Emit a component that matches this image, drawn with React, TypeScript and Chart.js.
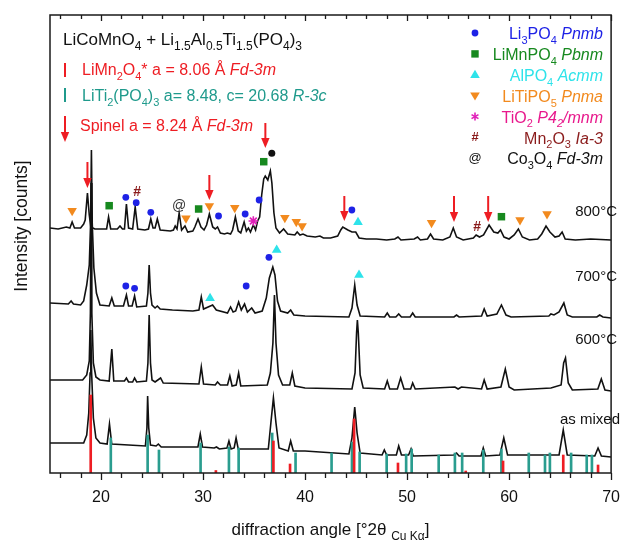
import React, { useEffect, useRef } from 'react';
import { Chart, registerables } from 'chart.js';

Chart.register(...registerables);

const FONT = '"Liberation Sans", Arial, Helvetica, sans-serif';
const RED = '#ee1d23';
const TEAL = '#1f9a8c';
const BLUE = '#1e22e6';
const GREEN = '#17891f';
const CYAN = '#2ee3ea';
const ORANGE = '#f28a1e';
const MAGENTA = '#e01eb8';
const PINK = '#e8188c';
const DARKRED = '#8b1c1c';

// ---- X axis ----
const xTickValues = [20, 30, 40, 50, 60, 70];
const minorTickValues = [16, 18, 20, 22, 24, 26, 28, 30, 32, 34, 36, 38, 40, 42, 44, 46, 48, 50, 52, 54, 56, 58, 60, 62, 64, 66, 68, 70];

// ---- Diffraction patterns [2theta, intensity (offset, a.u.)] ----
const trace800: [number, number][] = [
  [15.0, 245], [15.8, 244], [16.6, 246], [16.95, 245], [17.17, 251], [17.4, 245], [18.0, 245], [18.3, 249], [18.45, 253],
  [18.67, 280], [18.85, 258], [19.0, 246], [19.4, 244], [20.2, 244], [20.55, 244], [20.74, 256], [20.95, 244], [21.6, 244],
  [21.86, 247], [22.1, 244], [22.3, 244], [22.49, 269], [22.7, 245], [23.1, 244], [23.35, 266], [23.6, 244], [24.3, 243],
  [24.65, 244], [24.88, 254], [25.1, 245], [25.3, 245], [25.52, 254], [25.8, 243], [26.8, 242], [27.1, 243], [27.27, 247],
  [27.45, 244], [27.66, 260], [27.9, 243], [28.23, 247], [28.5, 241], [29.0, 242], [29.2, 246], [29.51, 254], [29.8, 246],
  [30.1, 243], [30.35, 248], [30.62, 259], [30.95, 246], [31.2, 244], [31.42, 246], [31.7, 240], [32.1, 239], [32.38, 240],
  [32.7, 239], [32.9, 243], [33.17, 256], [33.45, 242], [33.7, 240], [34.03, 251], [34.25, 242], [34.45, 245], [34.65, 241],
  [34.93, 248], [35.15, 243], [35.35, 252], [35.55, 256], [35.75, 278], [35.95, 294], [36.1, 297], [36.35, 293], [36.6, 302],
  [36.75, 290], [36.95, 260], [37.15, 245], [37.5, 240], [37.9, 244], [38.3, 239], [39.0, 238], [39.23, 241], [39.5, 238],
  [39.8, 239], [40.2, 237], [41.0, 236], [41.46, 237], [41.8, 235], [42.5, 235], [43.2, 237], [43.5, 243], [43.7, 246],
  [44.2, 243], [44.6, 241], [44.97, 241], [45.3, 235], [46.0, 234], [47.0, 234], [48.0, 233], [48.8, 234], [49.11, 236],
  [49.4, 233], [50.7, 234], [51.03, 236], [51.3, 233], [52.0, 234], [52.3, 239], [52.6, 234], [53.5, 233], [54.2, 236],
  [54.53, 245], [54.85, 236], [55.5, 233], [56.5, 235], [56.77, 238], [57.1, 236], [57.5, 238], [58.04, 248], [58.5, 241],
  [58.9, 240], [59.16, 243], [59.5, 236], [60.0, 234], [60.5, 238], [60.91, 244], [61.3, 236], [62.0, 233], [62.8, 234],
  [63.2, 239], [63.62, 247], [64.0, 241], [64.5, 236], [64.9, 237], [65.2, 241], [65.5, 234], [66.5, 233], [68.0, 234], [70.0, 233],
];

const trace700: [number, number][] = [
  [15.0, 170], [16.8, 169], [17.07, 172], [17.3, 169], [18.0, 168], [18.3, 172], [18.6, 188], [18.85, 208], [18.98, 250],
  [19.06, 323], [19.14, 250], [19.3, 205], [19.55, 180], [19.9, 168], [20.8, 167], [21.06, 175], [21.3, 167], [22.2, 167],
  [22.49, 178], [22.7, 167], [23.05, 167], [23.29, 177], [23.5, 166], [24.45, 167], [24.6, 180], [24.72, 208], [24.85, 180],
  [25.0, 168], [25.3, 165], [25.52, 167], [25.8, 164], [27.0, 163], [29.0, 162], [29.6, 163], [29.83, 176], [30.05, 164],
  [30.94, 168], [31.3, 163], [32.4, 160], [32.7, 166], [32.95, 161], [33.2, 162], [33.49, 171], [33.75, 163], [34.07, 169],
  [34.35, 161], [34.77, 165], [35.1, 160], [35.8, 162], [36.2, 175], [36.5, 195], [36.84, 206], [37.05, 198], [37.3, 172],
  [37.6, 162], [38.3, 160], [38.59, 163], [38.9, 158], [40.0, 157], [44.3, 156], [44.6, 165], [44.87, 188], [45.1, 168],
  [45.4, 157], [47.8, 156], [48.06, 160], [48.3, 156], [48.9, 156], [49.18, 159], [49.45, 156], [50.3, 156], [50.55, 160],
  [50.8, 156], [54.6, 156], [54.85, 158], [55.1, 156], [57.3, 157], [57.56, 164], [57.85, 157], [58.8, 159], [59.25, 168],
  [59.7, 158], [60.2, 156], [63.9, 157], [64.1, 159], [64.4, 158], [64.9, 161], [65.37, 170], [65.7, 158], [66.2, 156],
  [68.6, 156], [68.88, 158], [69.2, 156], [70.0, 155],
];

const trace600: [number, number][] = [
  [15.0, 93], [17.0, 93], [18.2, 93], [18.6, 98], [18.85, 112], [18.96, 160], [19.03, 290], [19.1, 160], [19.25, 110],
  [19.5, 96], [19.9, 93], [20.8, 92], [21.06, 124], [21.25, 92], [22.3, 92], [22.49, 95], [22.7, 91], [23.1, 91], [23.29, 95],
  [23.5, 91], [24.45, 92], [24.6, 110], [24.72, 158], [24.85, 110], [25.0, 93], [25.3, 91], [25.84, 95], [26.1, 90], [29.6, 89],
  [29.83, 106], [30.05, 89], [31.2, 88], [31.42, 91], [31.7, 88], [32.4, 88], [32.63, 97], [32.85, 87], [33.25, 88], [33.49, 100],
  [33.7, 87], [36.3, 88], [36.6, 100], [36.85, 130], [37.0, 178], [37.15, 130], [37.4, 98], [37.8, 88], [38.5, 88], [38.75, 100],
  [39.0, 87], [40.0, 85], [44.6, 84], [44.9, 100], [45.05, 140], [45.13, 153], [45.22, 140], [45.4, 98], [45.7, 85], [47.8, 84],
  [48.06, 92], [48.3, 84], [49.05, 84], [49.37, 95], [49.7, 84], [50.35, 84], [50.55, 90], [50.8, 84], [54.69, 86], [55.0, 84],
  [55.33, 86], [57.3, 84], [57.56, 93], [57.85, 84], [59.2, 86], [59.63, 104], [60.0, 86], [60.5, 83], [64.1, 85], [65.1, 88],
  [65.35, 110], [65.53, 115], [65.8, 90], [66.2, 83], [68.7, 84], [69.04, 94], [69.4, 83], [70.0, 82],
];

const traceMixed: [number, number][] = [
  [15.0, 30], [17.0, 30], [18.3, 30], [18.6, 38], [18.8, 60], [18.93, 100], [19.0, 143], [19.08, 100], [19.25, 55], [19.5, 35],
  [19.9, 30], [20.6, 29], [20.83, 49], [21.05, 29], [24.35, 27], [24.5, 45], [24.57, 77], [24.68, 45], [24.85, 28], [25.4, 27],
  [25.62, 29], [25.9, 26], [29.5, 26], [29.73, 39], [29.95, 26], [31.1, 25], [31.32, 26], [31.6, 24], [32.35, 25], [32.54, 32],
  [32.75, 24], [33.05, 25], [33.24, 35], [33.45, 24], [36.4, 24], [36.65, 50], [36.9, 75], [37.15, 50], [37.45, 25], [38.35, 22],
  [38.59, 32], [38.85, 22], [40.0, 22], [44.3, 19], [44.6, 35], [44.87, 66], [45.1, 40], [45.4, 20], [47.55, 18], [47.77, 23],
  [48.0, 18], [48.95, 18], [49.18, 27], [49.45, 18], [50.15, 18], [50.39, 24], [50.6, 17], [54.6, 18], [54.85, 20], [55.1, 17],
  [57.25, 17], [57.47, 25], [57.7, 17], [59.1, 18], [59.48, 35], [59.85, 18], [64.9, 18], [65.31, 43], [65.7, 18], [68.4, 17],
  [68.72, 25], [69.05, 17], [70.0, 16],
];

// ---- Reference patterns (stick heights) ----
const limn2o4Sticks: [number, number][] = [
  [18.99, 78], [31.26, 2.5], [36.9, 32], [38.53, 9], [44.81, 54], [49.11, 10], [55.75, 2], [59.41, 12], [65.31, 18], [68.72, 8],
];
const liti2po43Sticks: [number, number][] = [
  [20.96, 35], [24.57, 38], [25.68, 23], [29.76, 30], [32.54, 26], [33.49, 25], [36.78, 40], [39.07, 20], [42.6, 20], [44.6, 31],
  [45.35, 21], [48.0, 19], [49.91, 19], [50.45, 24], [53.1, 18], [54.69, 20], [55.4, 20], [57.47, 23], [59.25, 24], [61.93, 20],
  [63.52, 18], [64.0, 20], [66.08, 20], [67.61, 18], [68.12, 18],
];

// ---- Phase markers [2theta, intensity] ----
const li3po4Marks: [number, number][] = [
  [22.43, 275.7], [23.45, 270.3], [24.88, 260.7], [31.52, 257], [34.13, 259], [35.5, 273], [44.59, 263],
  [22.43, 187], [23.29, 184.7], [34.23, 187], [36.46, 215.7],
];
const limnpo4Marks: [number, number][] = [[20.8, 267.3], [29.57, 264], [35.95, 311.3], [59.25, 256.3]];
const alpo4Marks: [number, number][] = [[45.19, 250.7], [30.69, 174.7], [37.22, 223], [45.29, 198]];
const litipo5Marks: [number, number][] = [
  [17.17, 262.3], [28.33, 254.7], [30.62, 267], [33.11, 265.3], [38.02, 255.3], [39.14, 251.3], [39.71, 247],
  [52.4, 250.3], [61.07, 253], [63.72, 259],
];
const tio2Marks: [number, number][] = [[34.93, 252]];
const mn2o3Marks: [number, number][] = [[23.54, 280.7], [56.86, 246.3]];
const co3o4Marks: [number, number][] = [[27.66, 267.3]];
const unassignedMarks: [number, number][] = [[36.74, 319.7]];
// spinel arrows: [2theta, tail intensity, tip intensity]
const spinelArrows: [number, number, number][] = [
  [18.67, 311, 285], [30.62, 298, 273], [36.11, 350, 325], [43.85, 277, 252], [54.6, 277, 251], [57.95, 277, 251],
];

const sampleNames = ['800°C', '700°C', '600°C', 'as mixed'];

type Seg = { t: string; sub?: boolean; it?: boolean };

const titleLine: Seg[] = [
  { t: 'LiCoMnO' }, { t: '4', sub: true }, { t: ' + Li' }, { t: '1.5', sub: true }, { t: 'Al' }, { t: '0.5', sub: true },
  { t: 'Ti' }, { t: '1.5', sub: true }, { t: '(PO' }, { t: '4', sub: true }, { t: ')' }, { t: '3', sub: true },
];
const limn2o4Line: Seg[] = [
  { t: 'LiMn' }, { t: '2', sub: true }, { t: 'O' }, { t: '4', sub: true }, { t: '* a = 8.06 Å ' }, { t: 'Fd-3m', it: true },
];
const liti2Line: Seg[] = [
  { t: 'LiTi' }, { t: '2', sub: true }, { t: '(PO' }, { t: '4', sub: true }, { t: ')' }, { t: '3', sub: true },
  { t: ' a= 8.48, c= 20.68 ' }, { t: 'R-3c', it: true },
];
const spinelLine: Seg[] = [{ t: 'Spinel a = 8.24 Å ' }, { t: 'Fd-3m', it: true }];

const phaseLegend: { segs: Seg[]; color: string; marker: string }[] = [
  { segs: [{ t: 'Li' }, { t: '3', sub: true }, { t: 'PO' }, { t: '4', sub: true }, { t: ' ' }, { t: 'Pnmb', it: true }], color: BLUE, marker: 'circle' },
  { segs: [{ t: 'LiMnPO' }, { t: '4', sub: true }, { t: ' ' }, { t: 'Pbnm', it: true }], color: GREEN, marker: 'square' },
  { segs: [{ t: 'AlPO' }, { t: '4', sub: true }, { t: ' ' }, { t: 'Acmm', it: true }], color: CYAN, marker: 'tri' },
  { segs: [{ t: 'LiTiPO' }, { t: '5', sub: true }, { t: ' ' }, { t: 'Pnma', it: true }], color: ORANGE, marker: 'itri' },
  { segs: [{ t: 'TiO' }, { t: '2', sub: true }, { t: ' ' }, { t: 'P4', it: true }, { t: '2', sub: true, it: true }, { t: '/mnm', it: true }], color: PINK, marker: 'star' },
  { segs: [{ t: 'Mn' }, { t: '2', sub: true }, { t: 'O' }, { t: '3', sub: true }, { t: ' ' }, { t: 'Ia-3', it: true }], color: DARKRED, marker: 'hash' },
  { segs: [{ t: 'Co' }, { t: '3', sub: true }, { t: 'O' }, { t: '4', sub: true }, { t: ' ' }, { t: 'Fd-3m', it: true }], color: '#111111', marker: 'at' },
];

function drawRich(ctx: CanvasRenderingContext2D, segs: Seg[], x: number, y: number, size: number, color: string, align = 'left') {
  const subSize = Math.round(size * 0.7);
  const font = (s: Seg) => `${s.it ? 'italic ' : ''}${s.sub ? subSize : size}px ${FONT}`;
  let w = 0;
  for (const s of segs) {
    ctx.font = font(s);
    w += ctx.measureText(s.t).width;
  }
  let cx = align === 'right' ? x - w : align === 'center' ? x - w / 2 : x;
  ctx.fillStyle = color;
  ctx.textAlign = 'left';
  ctx.textBaseline = 'alphabetic';
  for (const s of segs) {
    ctx.font = font(s);
    ctx.fillText(s.t, cx, s.sub ? y + size * 0.3 : y);
    cx += ctx.measureText(s.t).width;
  }
}

function drawArrow(ctx: CanvasRenderingContext2D, x: number, y0: number, y1: number, color: string) {
  ctx.save();
  ctx.strokeStyle = color;
  ctx.fillStyle = color;
  ctx.lineWidth = 2;
  ctx.beginPath();
  ctx.moveTo(x, y0);
  ctx.lineTo(x, y1 - 8);
  ctx.stroke();
  ctx.beginPath();
  ctx.moveTo(x - 4.2, y1 - 10);
  ctx.lineTo(x + 4.2, y1 - 10);
  ctx.lineTo(x, y1);
  ctx.closePath();
  ctx.fill();
  ctx.restore();
}

function drawLegendMarker(ctx: CanvasRenderingContext2D, kind: string, x: number, y: number, color: string) {
  ctx.save();
  ctx.fillStyle = color;
  ctx.strokeStyle = color;
  if (kind === 'circle') {
    ctx.beginPath(); ctx.arc(x, y, 3.4, 0, Math.PI * 2); ctx.fill();
  } else if (kind === 'square') {
    ctx.fillRect(x - 3.7, y - 3.7, 7.4, 7.4);
  } else if (kind === 'tri') {
    ctx.beginPath(); ctx.moveTo(x, y - 5); ctx.lineTo(x + 4.8, y + 3.2); ctx.lineTo(x - 4.8, y + 3.2); ctx.closePath(); ctx.fill();
  } else if (kind === 'itri') {
    ctx.beginPath(); ctx.moveTo(x, y + 4.8); ctx.lineTo(x + 4.8, y - 3.2); ctx.lineTo(x - 4.8, y - 3.2); ctx.closePath(); ctx.fill();
  } else if (kind === 'star') {
    ctx.strokeStyle = MAGENTA;
    ctx.lineWidth = 1.6;
    for (let i = 0; i < 3; i++) {
      const a = (i * Math.PI) / 3 + Math.PI / 2;
      ctx.beginPath(); ctx.moveTo(x - 4 * Math.cos(a), y - 4 * Math.sin(a)); ctx.lineTo(x + 4 * Math.cos(a), y + 4 * Math.sin(a)); ctx.stroke();
    }
  } else if (kind === 'hash') {
    ctx.font = `bold 13px ${FONT}`; ctx.textAlign = 'center'; ctx.textBaseline = 'middle'; ctx.fillText('#', x, y);
  } else if (kind === 'at') {
    ctx.font = `13px ${FONT}`; ctx.textAlign = 'center'; ctx.textBaseline = 'middle'; ctx.fillText('@', x, y);
  }
  ctx.restore();
}

const decoPlugin = {
  id: 'deco',
  afterDatasetsDraw(chart: any) {
    const { ctx, scales } = chart;
    const x = scales.x;
    const y = scales.y;
    for (const [d, tail, tip] of spinelArrows) {
      drawArrow(ctx, x.getPixelForValue(d), y.getPixelForValue(tail), y.getPixelForValue(tip), RED);
    }
    ctx.save();
    ctx.textAlign = 'center';
    ctx.textBaseline = 'middle';
    ctx.fillStyle = DARKRED;
    ctx.font = `bold 14px ${FONT}`;
    for (const [d, v] of mn2o3Marks) ctx.fillText('#', x.getPixelForValue(d), y.getPixelForValue(v));
    ctx.fillStyle = '#333';
    ctx.font = `14px ${FONT}`;
    for (const [d, v] of co3o4Marks) ctx.fillText('@', x.getPixelForValue(d), y.getPixelForValue(v));
    ctx.restore();
  },
  afterDraw(chart: any) {
    const { ctx, chartArea: a, scales } = chart;
    const x = scales.x;
    ctx.save();
    // frame
    ctx.strokeStyle = '#1a1a1a';
    ctx.lineWidth = 1.5;
    ctx.strokeRect(a.left, a.top, a.right - a.left, a.bottom - a.top);
    // ticks
    ctx.lineWidth = 1.3;
    for (const v of minorTickValues) {
      const px = Math.round(x.getPixelForValue(v)) + 0.5;
      const len = xTickValues.includes(v) ? 7 : 5;
      ctx.beginPath();
      ctx.moveTo(px, a.bottom);
      ctx.lineTo(px, a.bottom + len);
      ctx.moveTo(px, a.top);
      ctx.lineTo(px, a.top + len - 1);
      ctx.stroke();
    }
    // axis titles
    drawRich(ctx, [{ t: 'diffraction angle [°2θ ' }, { t: 'Cu Kα', sub: true }, { t: ']' }], (a.left + a.right) / 2, 535, 17, '#111', 'center');
    ctx.save();
    ctx.translate(22, 226);
    ctx.rotate(-Math.PI / 2);
    ctx.font = `17.5px ${FONT}`;
    ctx.fillStyle = '#111';
    ctx.textAlign = 'center';
    ctx.textBaseline = 'middle';
    ctx.fillText('Intensity [counts]', 0, 0);
    ctx.restore();

    // left legend
    drawRich(ctx, titleLine, 63, 45, 17, '#111');
    ctx.fillStyle = RED;
    ctx.fillRect(64, 63, 2, 14);
    drawRich(ctx, limn2o4Line, 82, 75, 16, RED);
    ctx.fillStyle = TEAL;
    ctx.fillRect(64, 88, 2, 14);
    drawRich(ctx, liti2Line, 82, 101, 16, TEAL);
    drawArrow(ctx, 65, 116, 142, RED);
    drawRich(ctx, spinelLine, 80, 131, 16, RED);

    // right legend
    phaseLegend.forEach((p, i) => {
      const cy = 33 + i * 20.9;
      drawLegendMarker(ctx, p.marker, 475, cy, p.color === PINK ? MAGENTA : p.color);
      drawRich(ctx, p.segs, 603, cy + 6, 16, p.color, 'right');
    });

    // sample labels
    ctx.font = `15px ${FONT}`;
    ctx.fillStyle = '#111';
    ctx.textAlign = 'right';
    ctx.textBaseline = 'middle';
    const labelY = [212, 277, 340, 420];
    const labelX = [617, 617, 617, 620];
    sampleNames.forEach((n, i) => ctx.fillText(n, labelX[i], labelY[i]));
    ctx.restore();
  },
};

export default function App() {
  const ref = useRef<HTMLCanvasElement>(null);
  useEffect(() => {
    const canvas = ref.current;
    if (!canvas) return;
    const toXY = (arr: [number, number][]) => arr.map(([px, py]) => ({ x: px, y: py }));
    const lineDs = (label: string, data: [number, number][]) => ({
      type: 'line', label, data: toXY(data), borderColor: '#111111', borderWidth: 1.6,
      pointRadius: 0, tension: 0, fill: false, order: 3,
    });
    const stickDs = (label: string, data: [number, number][], color: string) => ({
      type: 'bar', label, data: toXY(data), backgroundColor: color, barThickness: 2, grouped: false, borderWidth: 0, order: 2,
    });
    const markDs = (label: string, data: [number, number][], style: string, color: string, radius: number, rotation = 0) => ({
      type: 'scatter', label, data: toXY(data), pointStyle: style, pointRadius: radius, pointRotation: rotation,
      backgroundColor: color, borderColor: color, borderWidth: style === 'star' ? 1.6 : 0, showLine: false, order: 1,
    });
    const chart = new Chart(canvas, {
      type: 'line',
      data: {
        datasets: [
          markDs('Li3PO4', li3po4Marks, 'circle', BLUE, 3.4),
          markDs('LiMnPO4', limnpo4Marks, 'rect', GREEN, 5.3),
          markDs('AlPO4', alpo4Marks, 'triangle', CYAN, 5.6),
          markDs('LiTiPO5', litipo5Marks, 'triangle', ORANGE, 5.5, 180),
          markDs('TiO2', tio2Marks, 'star', MAGENTA, 4.8),
          markDs('unassigned', unassignedMarks, 'circle', '#111111', 3.5),
          stickDs('LiMn2O4', limn2o4Sticks, RED),
          stickDs('LiTi2(PO4)3', liti2po43Sticks, '#2a9d8f'),
          lineDs('800°C', trace800),
          lineDs('700°C', trace700),
          lineDs('600°C', trace600),
          lineDs('as mixed', traceMixed),
        ] as any,
      },
      options: {
        animation: false,
        responsive: false,
        devicePixelRatio: 1,
        events: [],
        layout: { padding: { left: 50, right: 10, top: 15, bottom: 0 } },
        plugins: { legend: { display: false }, tooltip: { enabled: false } },
        scales: {
          x: {
            type: 'linear',
            min: 15,
            max: 70,
            offset: false,
            grid: { display: false, drawTicks: false },
            border: { display: false },
            afterBuildTicks: (scale: any) => {
              scale.ticks = xTickValues.map((v) => ({ value: v }));
            },
            afterFit: (scale: any) => {
              scale.height = 67;
            },
            ticks: { font: { family: FONT, size: 16 }, color: '#111', padding: 15, maxRotation: 0, autoSkip: false },
          },
          y: { type: 'linear', display: false, min: 0, max: 458 },
        },
      } as any,
      plugins: [decoPlugin],
    });
    return () => chart.destroy();
  }, []);
  return (
    <div style={{ position: 'absolute', left: 0, top: 0, width: 635, height: 540, background: '#fff' }}>
      <canvas ref={ref} width={635} height={540} style={{ width: 635, height: 540, display: 'block' }} />
    </div>
  );
}
